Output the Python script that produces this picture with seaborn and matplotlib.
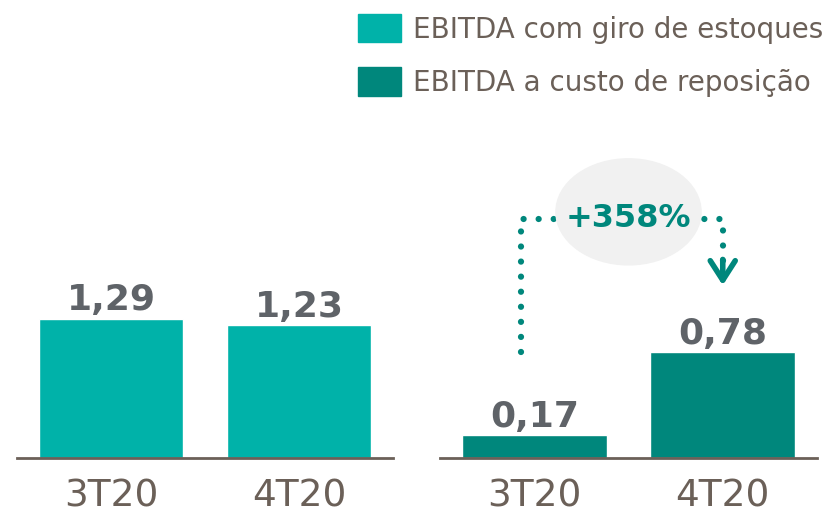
import matplotlib.pyplot as plt
import pandas as pd
import seaborn as sns
from matplotlib.patches import Ellipse, Patch

periods = ["3T20", "4T20"]
ebitda_giro = [1.29, 1.23]
ebitda_reposicao = [0.17, 0.78]
growth_label = "+358%"
legend_labels = ["EBITDA com giro de estoques", "EBITDA a custo de reposição"]

light = "#00B2A9"
dark = "#00877C"
value_grey = "#5F6368"
brown = "#6B6058"

sns.set_style("white")
plt.rcParams["font.family"] = ["DejaVu Sans"]

fig = plt.figure(figsize=(8.3, 5.14), dpi=100)
ax1 = fig.add_axes([17 / 830, 56 / 514, 376 / 830, 458 / 514])
ax2 = fig.add_axes([440 / 830, 56 / 514, 377 / 830, 458 / 514])

left = pd.DataFrame({"period": periods, "value": ebitda_giro})
right = pd.DataFrame({"period": periods, "value": ebitda_reposicao})

sns.barplot(data=left, x="period", y="value", color=light, width=0.77,
            saturation=1, ax=ax1)
sns.barplot(data=right, x="period", y="value", color=dark, width=0.77,
            saturation=1, ax=ax2)

ax1.set_ylim(0, 458 / 108)
ax2.set_ylim(0, 458 / 136)

for ax, vals in [(ax1, ebitda_giro), (ax2, ebitda_reposicao)]:
    ax.set_xlim(-0.5, 1.5)
    ax.set_xlabel("")
    ax.set_ylabel("")
    ax.set_yticks([])
    sns.despine(ax=ax, left=True)
    ax.spines["bottom"].set_color(brown)
    ax.spines["bottom"].set_linewidth(2)
    ax.tick_params(axis="x", length=0, pad=15, labelsize=27, labelcolor=brown)
    for i, v in enumerate(vals):
        ax.annotate(f"{v:.2f}".replace(".", ","), (i, v),
                    xytext=(0, 6), textcoords="offset points",
                    ha="center", va="baseline", fontsize=26,
                    fontweight="bold", color=value_grey)

# growth bracket from 3T20 to 4T20
top = max(ebitda_reposicao) + 0.98
ax2.plot([-0.07, -0.07, 1.0, 1.0],
         [ebitda_reposicao[1], top, top, top - 0.36],
         color=dark, lw=4.5, linestyle=(0, (0.01, 2.4)),
         dash_capstyle="round", zorder=3)
ax2.annotate("", xy=(1.0, top - 0.49), xytext=(1.0, top - 0.3),
             arrowprops=dict(arrowstyle="->,head_length=0.7,head_width=0.45",
                             lw=4, color=dark, mutation_scale=20,
                             shrinkA=0, shrinkB=0), zorder=3)
ax2.add_patch(Ellipse((0.5, top + 0.05), 0.77, 0.78, color="#F1F1F1",
                      zorder=4, clip_on=False))
ax2.text(0.5, top, growth_label, ha="center", va="center", fontsize=23,
         fontweight="bold", color=dark, zorder=5)

handles = [Patch(color=light), Patch(color=dark)]
fig.legend(handles, legend_labels, loc="upper right",
           bbox_to_anchor=(1.008, 1.0), frameon=False,
           fontsize=20, labelcolor=brown, handlelength=1.55,
           handleheight=1.2, handletextpad=0.4, labelspacing=0.85,
           borderaxespad=0.2, borderpad=0.3)

plt.savefig("out.png")
